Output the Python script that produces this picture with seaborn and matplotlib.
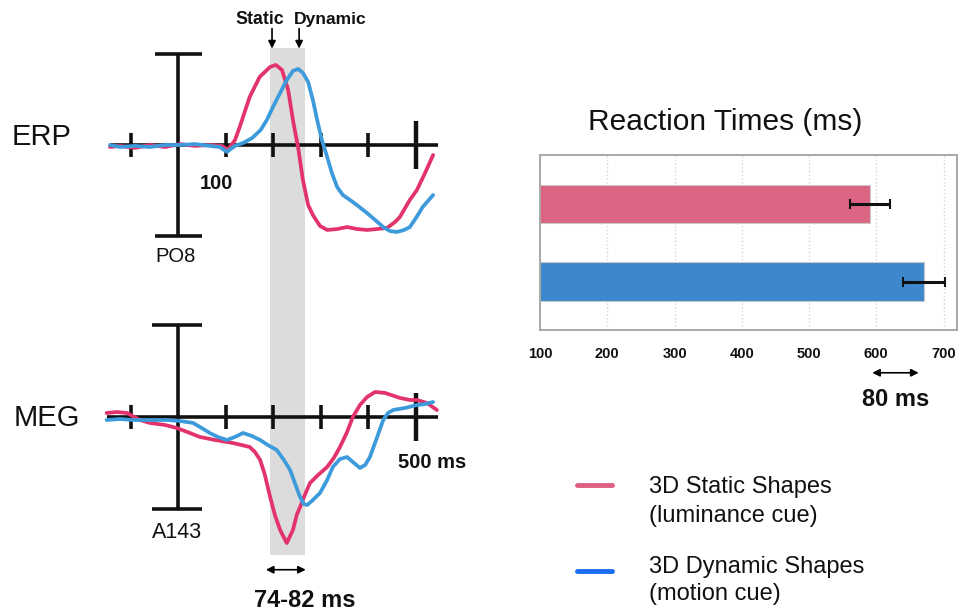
import matplotlib
matplotlib.use('Agg')
import matplotlib.pyplot as plt
import numpy as np
import pandas as pd
import seaborn as sns
from matplotlib.lines import Line2D

# ERP / MEG traces (time in ms, amplitude in µV / fT)
erp_static_t = [-144, -123, -92, -60, -28, 3, 35, 66, 92, 104, 119, 129, 150, 171, 193, 205,
                218, 231, 241, 252, 262, 273, 283, 298, 313, 334, 355, 376, 397, 418, 439,
                456, 466, 487, 502, 519, 536]
erp_static_v = [-0.11, -0.05, -0.16, 0.0, -0.11, 0.05, -0.05, 0.0, -0.05, -0.27, 0.27, 0.99,
                2.64, 3.74, 4.29, 4.40, 4.12, 3.02, 1.37, -0.16, -1.92, -3.30, -3.85, -4.45,
                -4.67, -4.62, -4.51, -4.62, -4.67, -4.62, -4.56, -4.23, -3.96, -3.02, -2.47,
                -1.54, -0.55]
erp_dynamic_t = [-144, -123, -92, -60, -28, 3, 35, 66, 87, 102, 119, 136, 155, 173, 186, 199,
                 215, 228, 241, 252, 262, 273, 283, 292, 302, 313, 323, 334, 346, 361, 378,
                 397, 414, 431, 445, 460, 475, 487, 500, 514, 536]
erp_dynamic_v = [0.0, -0.11, -0.05, -0.11, 0.0, 0.0, 0.05, -0.05, -0.11, -0.38, -0.05, 0.11,
                 0.38, 0.82, 1.37, 2.09, 2.91, 3.57, 4.07, 4.18, 3.96, 3.46, 2.47, 1.37, 0.27,
                 -0.66, -1.54, -2.31, -2.75, -3.02, -3.35, -3.74, -4.12, -4.51, -4.73, -4.78,
                 -4.67, -4.51, -4.01, -3.41, -2.75]

meg_static_t = [-151, -129, -108, -81, -60, -28, -3, 24, 45, 77, 115, 150, 161, 172, 182, 193,
                203, 214, 228, 241, 249, 256, 266, 277, 294, 313, 327, 340, 355, 367, 382,
                397, 414, 435, 466, 487, 502, 523, 544]
meg_static_v = [4.3, 5.4, 4.3, -3.3, -6.5, -8.7, -12, -17.4, -21.7, -25, -28.3, -32.6, -38,
                -46.7, -63, -87, -106.5, -122.8, -137, -122.8, -106.5, -97.8, -84.8, -71.7,
                -63, -54.3, -44.6, -32.6, -16.3, 0, 13, 21.7, 27.2, 26.1, 20.7, 18.5, 18.5,
                15.2, 7.6]
meg_dynamic_t = [-151, -123, -96, -60, -24, 3, 31, 49, 66, 83, 102, 119, 136, 155, 172, 188,
                 207, 222, 235, 245, 256, 264, 271, 283, 298, 313, 325, 340, 355, 367, 382,
                 393, 403, 416, 431, 441, 452, 477, 502, 519, 536]
meg_dynamic_v = [-3.3, -2.2, -3.3, -3.3, -3.3, -4.3, -6.5, -12, -17.4, -21.7, -25, -21.7,
                 -17.4, -20.7, -25, -30.4, -35.9, -46.7, -57.6, -71.7, -87, -94.6, -95.7,
                 -90.2, -82.6, -68.5, -54.3, -45.7, -43.5, -48.9, -55.4, -52.2, -43.5, -25,
                 -3.3, 4.3, 7.6, 9.8, 13, 14.1, 16.3]

axis_ticks = [-100, 100, 200, 300, 400]
latency_window = (192, 266)

# reaction times
conditions = ['3D Static Shapes', '3D Dynamic Shapes']
rt_mean = [591, 671]
rt_err = [30, 31]
rt_ticks = [100, 200, 300, 400, 500, 600, 700]

trace_colors = ['#e3336b', '#3d9bdb']
bar_colors = ['#da6482', '#3d88cd']
legend_colors = ['#df5f84', '#1a6cf0']

sns.set_theme(style='white')
plt.rcParams['font.family'] = ['Liberation Sans', 'DejaVu Sans']
plt.rcParams['text.color'] = '#111111'

W, H = 964, 612
fig = plt.figure(figsize=(W / 100, H / 100), dpi=100)


def px_axes(left, top, right, bottom):
    return fig.add_axes([left / W, 1 - bottom / H, (right - left) / W, (bottom - top) / H])


def fx(x):
    return x / W


def fy(y):
    return 1 - y / H


xlim = (-165, 561)

# ---------- ERP ----------
ax_erp = px_axes(100, 48, 445, 290)
ax_erp.set_xlim(*xlim)
ax_erp.set_ylim(-7.97, 5.33)
ax_erp.set_axis_off()
ax_erp.axvspan(*latency_window, color='#dcdcdc', lw=0, zorder=0)
ax_erp.plot([-144, 546], [0, 0], color='#111111', lw=2.6, zorder=2, solid_capstyle='butt')
tk = 12 / 18.2
ax_erp.vlines(axis_ticks, -tk, tk, color='#111111', lw=2.6, zorder=2)
ax_erp.vlines([500], -2 * tk, 2 * tk, color='#111111', lw=3.2, zorder=2)
ax_erp.vlines([0], -5, 5, color='#111111', lw=2.6, zorder=2)
ax_erp.hlines([-5, 5], -50, 50, color='#111111', lw=2.6, zorder=2)
sns.lineplot(x=erp_static_t, y=erp_static_v, ax=ax_erp, color=trace_colors[0], lw=2.7,
             zorder=3, sort=False)
sns.lineplot(x=erp_dynamic_t, y=erp_dynamic_v, ax=ax_erp, color=trace_colors[1], lw=2.7,
             zorder=4, sort=False)
ax_erp.text(81, -2.1, '100', ha='center', va='center', fontsize=14.5, fontweight='bold')
ax_erp.text(-7, -6.15, 'PO8', ha='center', va='center', fontsize=14.5)
ax_erp.text(171, 6.87, 'Static', ha='center', va='center', fontsize=12.8,
            fontweight='bold', clip_on=False)
ax_erp.text(320, 6.87, 'Dynamic', ha='center', va='center', fontsize=12.6,
            fontweight='bold', clip_on=False)
for t in (197, 254):
    ax_erp.annotate('', xy=(t, 5.3), xytext=(t, 6.4), annotation_clip=False,
                    arrowprops=dict(arrowstyle='-|>', color='black', lw=1.2,
                                    mutation_scale=11, shrinkA=0, shrinkB=0))

# ---------- MEG ----------
ax_meg = px_axes(100, 290, 445, 555)
ax_meg.set_xlim(*xlim)
ax_meg.set_ylim(-150, 138)
ax_meg.set_axis_off()
ax_meg.axvspan(*latency_window, color='#dcdcdc', lw=0, zorder=0)
ax_meg.plot([-151, 546], [0, 0], color='#111111', lw=2.6, zorder=2, solid_capstyle='butt')
tk = 12 / 0.92
ax_meg.vlines(axis_ticks, -tk, tk, color='#111111', lw=2.6, zorder=2)
ax_meg.vlines([500], -2 * tk, 2 * tk, color='#111111', lw=3.2, zorder=2)
ax_meg.vlines([0], -100, 100, color='#111111', lw=2.6, zorder=2)
ax_meg.hlines([-100, 100], -55, 50, color='#111111', lw=2.6, zorder=2)
sns.lineplot(x=meg_static_t, y=meg_static_v, ax=ax_meg, color=trace_colors[0], lw=2.7,
             zorder=3, sort=False)
sns.lineplot(x=meg_dynamic_t, y=meg_dynamic_v, ax=ax_meg, color=trace_colors[1], lw=2.7,
             zorder=4, sort=False)
ax_meg.text(-3, -126, 'A143', ha='center', va='center', fontsize=15.5)
ax_meg.text(534, -50, '500 ms', ha='center', va='center', fontsize=14.5, fontweight='bold',
            clip_on=False)
ax_meg.annotate('', xy=(latency_window[0] - 8, -166), xytext=(latency_window[1] + 2, -166),
                annotation_clip=False,
                arrowprops=dict(arrowstyle='<|-|>', color='black', lw=1.2,
                                mutation_scale=11, shrinkA=0, shrinkB=0))
ax_meg.text(266, -199, '74-82 ms', ha='center', va='center', fontsize=17,
            fontweight='bold', clip_on=False)

fig.text(fx(42), fy(137), 'ERP', ha='center', va='center', fontsize=21)
fig.text(fx(47), fy(418), 'MEG', ha='center', va='center', fontsize=21)

# ---------- Reaction times ----------
ax_rt = px_axes(540, 155, 957, 330)
rt = pd.DataFrame({'condition': conditions, 'rt': rt_mean})
sns.barplot(data=rt, x='rt', y='condition', hue='condition', palette=bar_colors,
            orient='h', width=0.5, ax=ax_rt, legend=False, saturation=1,
            linewidth=0.8, edgecolor='#c8c8c8')
ax_rt.errorbar(rt_mean, range(len(conditions)), xerr=rt_err, fmt='none', ecolor='#111111',
               elinewidth=2.2, capsize=3.5, capthick=1.5, zorder=5)
ax_rt.set_xlim(100, 720)
ax_rt.set_ylim(1.62, -0.63)
ax_rt.set_xticks(rt_ticks)
ax_rt.set_xticklabels([str(v) for v in rt_ticks], fontweight='bold', fontsize=10.5)
ax_rt.set_yticks([])
ax_rt.set_xlabel('')
ax_rt.set_ylabel('')
ax_rt.tick_params(axis='x', length=0, pad=12, colors='#111111')
ax_rt.grid(axis='x', color='#d5d5d5', linestyle=':', lw=1)
ax_rt.set_axisbelow(True)
for s in ax_rt.spines.values():
    s.set_color('#a8a8a8')
    s.set_linewidth(1.4)
ax_rt.annotate('', xy=(rt_mean[0] + 3, 2.17), xytext=(rt_mean[1] - 8, 2.17),
               xycoords='data', annotation_clip=False,
               arrowprops=dict(arrowstyle='<|-|>', color='black', lw=1.2,
                               mutation_scale=11, shrinkA=0, shrinkB=0))
ax_rt.text(sum(rt_mean) / 2 - 2, 2.52, '80 ms', ha='center', va='center', fontsize=17,
           fontweight='bold', clip_on=False)
fig.text(fx(725), fy(122), 'Reaction Times (ms)', ha='center', va='center', fontsize=21.5)

# ---------- legend ----------
legend_lines = [('3D Static Shapes', '(luminance cue)', 485, 487, 516),
                ('3D Dynamic Shapes', '(motion cue)', 571, 567, 594)]
for (l1, l2, y, y1, y2), c in zip(legend_lines, legend_colors):
    fig.add_artist(Line2D([fx(577), fx(612)], [fy(y), fy(y)], color=c, lw=3.5,
                          transform=fig.transFigure))
    fig.text(fx(649), fy(y1), l1, ha='left', va='center', fontsize=17)
    fig.text(fx(649), fy(y2), l2, ha='left', va='center', fontsize=17)

fig.savefig('out.png', dpi=100)
